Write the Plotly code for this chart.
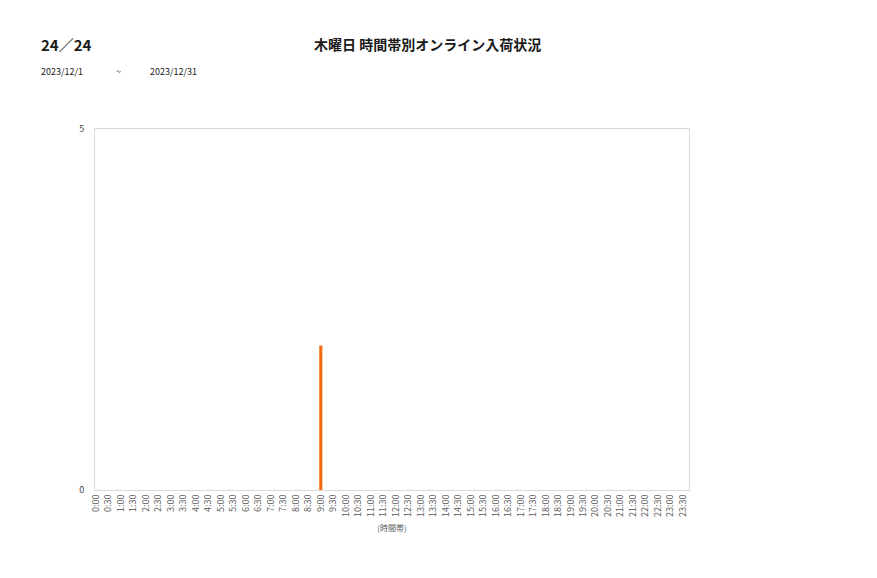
import plotly.graph_objects as go

# 時間帯 (30分刻み)
time_slots = [f"{h}:{m:02d}" for h in range(24) for m in (0, 30)]
counts = [0] * 48
counts[18] = 2  # 9:00

page_label = "24／24"
chart_title = "木曜日 時間帯別オンライン入荷状況"
date_from = "2023/12/1"
date_to = "2023/12/31"

FONT = "Noto Sans CJK JP"
W, H = 877, 578
ML, MR, MT, MB = 87, 196, 121, 96
OFF = 7  # page offset seen in the screenshot


def px2paper(px, py):
    x = (px - OFF - ML) / (W - ML - MR)
    y = 1 - (py - OFF - MT) / (H - MT - MB)
    return x, y


fig = go.Figure()
fig.add_trace(go.Bar(
    x=list(range(len(time_slots))), y=counts,
    width=0.25, marker=dict(color="#f26b0f", line=dict(width=0)),
    showlegend=False,
))

fig.update_layout(
    width=W, height=H,
    margin=dict(l=ML, r=MR, t=MT, b=MB),
    paper_bgcolor="white", plot_bgcolor="white",
    font=dict(family=FONT, color="#595959"),
    xaxis=dict(
        range=[-0.08, 47.48],
        tickmode="array", tickvals=list(range(len(time_slots))), ticktext=time_slots,
        tickangle=-90, tickfont=dict(size=9, color="#595959"),
        showgrid=False, zeroline=False, ticks="",
        showline=True, linecolor="#d9d9d9", linewidth=1, mirror=True,
        title=dict(text="(時間帯)", font=dict(size=8, color="#595959"), standoff=9),
    ),
    yaxis=dict(
        range=[0, 5], tickvals=[0, 5], ticktext=["0", "5"],
        tickfont=dict(size=9, color="#404040"),
        showgrid=False, zeroline=False, ticks="", ticklabelstandoff=8,
        showline=True, linecolor="#d9d9d9", linewidth=1, mirror=True,
    ),
)

texts = [
    (38, 43, f"<b>{page_label}</b>", "left", 15),
    (427, 43, f"<b>{chart_title}</b>", "center", 14),
    (38, 71, date_from, "left", 9),
    (113, 71, "~", "left", 9),
    (147, 71, date_to, "left", 9),
]
for px, py, t, anchor, size in texts:
    x, y = px2paper(px, py)
    fig.add_annotation(x=x, y=y, xref="paper", yref="paper", text=t,
                       showarrow=False, xanchor=anchor, yanchor="middle",
                       font=dict(size=size, color="#1a1a1a", family=FONT))

fig.write_html("out.html")
